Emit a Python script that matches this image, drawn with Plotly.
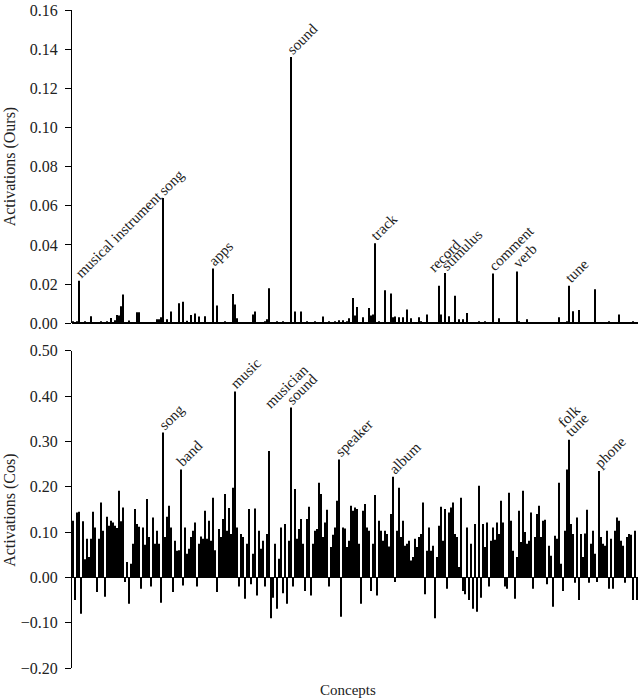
import plotly.graph_objects as go
from plotly.subplots import make_subplots

# Activations per concept (concept index 0..282)
ours = [
    0.001, 0.0005, 0.001, 0.0217, 0.0005, 0.0005, 0.001, 0.0005, 0.0005, 0.0036,
    0.0005, 0.0005, 0.0005, 0.0005, 0.001, 0.0005, 0.0005, 0.001, 0.0005, 0.0027,
    0.0005, 0.0015, 0.0042, 0.0039, 0.0086, 0.0147, 0.0005, 0.0005, 0.0014, 0.0005,
    0.0005, 0.0005, 0.0056, 0.0056, 0.0005, 0.0005, 0.0005, 0.0005, 0.0005, 0.0005,
    0.0005, 0.0005, 0.002, 0.002, 0.003, 0.064, 0.0005, 0.002, 0.0005, 0.006,
    0.0005, 0.0005, 0.0005, 0.0102, 0.0005, 0.011, 0.0005, 0.0012, 0.0005, 0.0042,
    0.0005, 0.005, 0.0005, 0.0034, 0.0005, 0.0005, 0.0035, 0.0005, 0.0005, 0.0005,
    0.028, 0.0005, 0.009, 0.0005, 0.0005, 0.0005, 0.001, 0.0005, 0.0005, 0.0005,
    0.0149, 0.0095, 0.0025, 0.0005, 0.0005, 0.0005, 0.0005, 0.0005, 0.0005, 0.0005,
    0.0044, 0.006, 0.0005, 0.0005, 0.0005, 0.0005, 0.001, 0.002, 0.0178, 0.0005,
    0.0005, 0.0005, 0.001, 0.0005, 0.0005, 0.001, 0.0005, 0.0005, 0.0005, 0.136,
    0.0005, 0.006, 0.0005, 0.0005, 0.006, 0.0005, 0.0005, 0.001, 0.0005, 0.0005,
    0.0005, 0.001, 0.0005, 0.0005, 0.0005, 0.0034, 0.0005, 0.0005, 0.001, 0.0005,
    0.0005, 0.001, 0.0005, 0.0015, 0.0005, 0.0015, 0.0005, 0.001, 0.0025, 0.0005,
    0.0129, 0.004, 0.0083, 0.0005, 0.0005, 0.003, 0.0005, 0.0005, 0.0078, 0.004,
    0.0044, 0.0408, 0.0005, 0.001, 0.0005, 0.0005, 0.0168, 0.0005, 0.0005, 0.0152,
    0.003, 0.0034, 0.0005, 0.003, 0.0005, 0.003, 0.0005, 0.007, 0.0005, 0.0025,
    0.0005, 0.0005, 0.0005, 0.003, 0.001, 0.0005, 0.0005, 0.0044, 0.0005, 0.0005,
    0.0005, 0.0005, 0.0005, 0.0191, 0.0044, 0.0005, 0.0256, 0.0005, 0.0036, 0.0005,
    0.0005, 0.014, 0.0005, 0.002, 0.0005, 0.002, 0.0005, 0.0052, 0.0005, 0.0005,
    0.0005, 0.0005, 0.0005, 0.001, 0.0005, 0.0005, 0.001, 0.0005, 0.0005, 0.0005,
    0.0254, 0.0005, 0.0005, 0.0025, 0.0005, 0.0005, 0.0005, 0.0005, 0.0005, 0.0005,
    0.0005, 0.0005, 0.0264, 0.001, 0.0005, 0.0005, 0.0005, 0.002, 0.0005, 0.0005,
    0.0005, 0.0005, 0.0005, 0.0005, 0.0005, 0.0005, 0.0005, 0.0005, 0.0005, 0.0005,
    0.0005, 0.0005, 0.0005, 0.003, 0.0005, 0.0005, 0.0005, 0.001, 0.0191, 0.0005,
    0.0061, 0.0005, 0.0005, 0.0068, 0.0005, 0.0005, 0.0005, 0.0005, 0.0005, 0.0005,
    0.0005, 0.0174, 0.0005, 0.0005, 0.0005, 0.0005, 0.0005, 0.0005, 0.001, 0.0005,
    0.0005, 0.0005, 0.0005, 0.0044, 0.0005, 0.0005, 0.0005, 0.0005, 0.0005, 0.0005,
    0.001, 0.0005, 0.0005,
]

cos = [
    0.125, -0.05, 0.143, 0.145, -0.08, 0.124, 0.04, 0.085, 0.045, 0.085,
    0.145, 0.11, -0.032, 0.085, 0.165, 0.103, -0.043, 0.134, 0.114, 0.125,
    0.121, 0.114, 0.109, 0.191, 0.124, 0.154, -0.01, 0.034, -0.058, 0.03,
    0.074, 0.151, 0.118, 0.112, -0.025, 0.11, 0.072, 0.173, 0.089, -0.02,
    0.132, 0.074, 0.103, 0.074, -0.056, 0.32, 0.089, 0.134, 0.158, 0.11,
    -0.032, 0.081, 0.059, 0.06, 0.238, -0.018, 0.11, 0.052, 0.063, 0.089,
    0.103, 0.121, -0.02, 0.074, 0.09, 0.085, 0.147, 0.085, 0.125, 0.081,
    0.176, 0.06, -0.032, 0.107, 0.089, 0.129, 0.184, 0.103, 0.153, 0.096,
    0.198, 0.41, 0.11, -0.02, 0.096, 0.089, -0.047, 0.074, 0.151, -0.015,
    0.052, 0.152, -0.04, 0.103, 0.063, 0.081, -0.02, 0.096, 0.279, -0.09,
    -0.045, 0.074, -0.069, 0.041, 0.11, -0.035, 0.118, -0.058, 0.081, 0.375,
    -0.02, 0.195, 0.085, 0.107, 0.129, 0.074, -0.03, 0.129, 0.156, -0.04,
    0.074, 0.103, 0.107, 0.209, 0.184, 0.089, 0.121, 0.149, -0.02, 0.067,
    0.094, 0.11, 0.169, 0.26, -0.087, 0.11, 0.108, 0.067, 0.081, 0.158,
    0.147, 0.154, 0.151, 0.074, -0.058, 0.147, 0.162, 0.11, 0.103, -0.03,
    0.074, 0.182, -0.04, 0.125, 0.103, 0.081, 0.103, 0.096, 0.068, 0.14,
    0.222, -0.01, 0.103, 0.198, 0.089, 0.125, 0.07, 0.074, 0.081, 0.037,
    0.045, 0.085, 0.067, 0.089, 0.096, 0.165, -0.037, 0.059, 0.11, 0.059,
    0.07, -0.09, 0.045, 0.114, 0.156, 0.081, 0.151, -0.025, 0.143, 0.154,
    0.165, 0.096, 0.089, 0.023, 0.176, -0.03, -0.037, 0.11, -0.05, 0.074,
    -0.069, 0.118, -0.076, 0.202, -0.045, 0.118, 0.067, 0.121, -0.02, 0.081,
    0.11, 0.083, 0.121, 0.096, 0.169, 0.121, -0.02, -0.025, 0.187, 0.125,
    0.059, -0.047, 0.045, 0.147, 0.078, 0.191, 0.1, 0.074, 0.081, 0.143,
    -0.025, 0.089, 0.14, 0.158, 0.089, 0.125, 0.127, -0.015, 0.07, 0.048,
    -0.065, 0.092, 0.085, 0.209, 0.03, -0.03, 0.103, 0.238, 0.304, 0.118,
    0.096, -0.012, 0.132, -0.05, 0.096, 0.045, 0.097, 0.149, -0.012, 0.074,
    0.103, 0.052, -0.01, 0.235, 0.089, 0.074, 0.07, 0.103, -0.025, 0.085,
    -0.025, 0.103, 0.132, 0.125, 0.081, 0.07, -0.012, 0.089, 0.096, 0.094,
    -0.05, 0.103, -0.05,
]

concepts = list(range(len(ours)))

# Labelled concepts: (concept index, word)
ours_labels = [(3, "musical instrument"), (45, "song"), (70, "apps"), (109, "sound"),
               (151, "track"), (183, "record"), (186, "stimulus"), (210, "comment"),
               (222, "verb"), (248, "tune")]
cos_labels = [(45, "song"), (54, "band"), (81, "music"), (98, "musician"), (109, "sound"),
              (133, "speaker"), (160, "album"), (247, "folk"), (248, "tune"), (263, "phone")]

# label pixel offsets (style only)
label_shift = {("ours", "record"): (-7, 11), ("cos", "musician"): (0, 40), ("cos", "folk"): (-5, 39)}

FONT = "Liberation Serif"
TXT = "#222"

fig = make_subplots(rows=2, cols=1, shared_xaxes=False, vertical_spacing=0.0)

fig.add_trace(go.Bar(x=concepts, y=ours, marker=dict(color="black", line=dict(width=0)),
                     showlegend=False), row=1, col=1)
fig.add_trace(go.Bar(x=concepts, y=cos, marker=dict(color="black", line=dict(width=0)),
                     showlegend=False), row=2, col=1)

xr = [-0.5, len(concepts) - 0.5]
yax_common = dict(ticks="outside", ticklen=6, tickcolor="black", showline=True,
                  linecolor="black", linewidth=1, showgrid=False, zeroline=True,
                  zerolinecolor="black", zerolinewidth=1, tickfont=dict(size=16),
                  ticklabelstandoff=4, tickformat=".2f")
fig.update_layout(
    width=640, height=698,
    margin=dict(l=72, r=2, t=6, b=30),
    plot_bgcolor="white", paper_bgcolor="white",
    bargap=0.35,
    font=dict(family=FONT, size=15, color=TXT),
    xaxis=dict(domain=[0, 1], range=xr, showticklabels=False, ticks="", showline=False,
               showgrid=False, zeroline=False),
    xaxis2=dict(domain=[0, 1], range=xr, showticklabels=False, ticks="", showline=False,
                showgrid=False, zeroline=False),
    yaxis=dict(domain=[0.524, 1.0], range=[0, 0.16], dtick=0.02, **yax_common),
    yaxis2=dict(domain=[0.0, 0.482], range=[-0.2, 0.5], dtick=0.1, **yax_common),
)

anns = []
for name, labels, vals, xref, yref in [("ours", ours_labels, ours, "x", "y"),
                                       ("cos", cos_labels, cos, "x2", "y2")]:
    for idx, word in labels:
        dx, dy = label_shift.get((name, word), (0, 0))
        anns.append(dict(x=idx, y=vals[idx], xref=xref, yref=yref, text=word,
                         showarrow=False, textangle=-45, xanchor="left", yanchor="bottom",
                         xshift=-10 + dx, yshift=-3 + dy,
                         font=dict(family=FONT, size=15, color=TXT)))

anns.append(dict(x=-0.11, y=0.762, xref="paper", yref="paper", text="Activations (Ours)",
                 textangle=-90, showarrow=False, xanchor="center", yanchor="middle",
                 font=dict(family=FONT, size=16, color=TXT)))
anns.append(dict(x=-0.11, y=0.24, xref="paper", yref="paper", text="Activations (Cos)",
                 textangle=-90, showarrow=False, xanchor="center", yanchor="middle",
                 font=dict(family=FONT, size=16, color=TXT)))
anns.append(dict(x=0.488, y=-0.033, xref="paper", yref="paper", text="Concepts",
                 showarrow=False, xanchor="center", yanchor="middle",
                 font=dict(family=FONT, size=15, color=TXT)))
fig.update_layout(annotations=anns)

fig.write_html("out.html", config={"displayModeBar": False},
               post_script="document.body.style.margin='0';document.body.style.overflow='hidden';")
